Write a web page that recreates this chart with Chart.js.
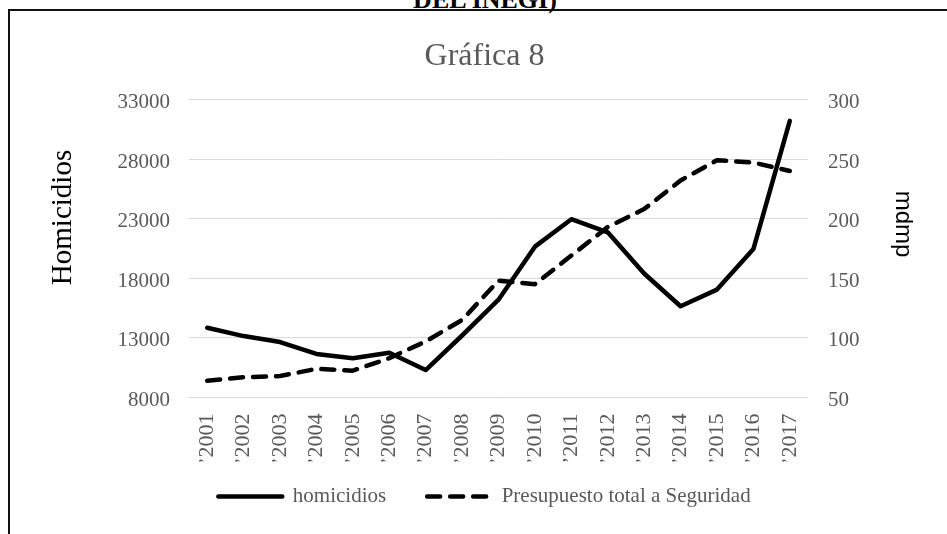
<!DOCTYPE html>
<html>
<head>
<meta charset="utf-8">
<script src="https://cdn.jsdelivr.net/npm/chart.js@4/dist/chart.umd.min.js"></script>
<style>
  html, body { margin: 0; padding: 0; background: #fff; }
  body { width: 947px; height: 534px; position: relative; overflow: hidden; }
  #cap { position: absolute; left: 0; top: -13.5px; width: 970px; text-align: center;
         font: bold 26px/26px "Liberation Serif", serif; color: #000; white-space: nowrap; }
  #box { position: absolute; left: 8px; top: 9px; width: 960px; height: 560px;
         border-left: 2px solid #111; border-top: 2px solid #111; }
  #c { position: absolute; left: 0; top: 0; }
</style>
</head>
<body>
<div id="cap">DEL INEGI)</div>
<div id="box"></div>
<canvas id="c" width="947" height="534"></canvas>
<script>
const chartTitle = 'Gráfica 8';
const leftAxisTitle = 'Homicidios';
const rightAxisTitle = 'mdmp';
const years = ['2001','2002','2003','2004','2005','2006','2007','2008','2009','2010','2011','2012','2013','2014','2015','2016','2017'];
const yearLabels = years.map(y => '\u2019' + y);
const homicidios = [13850, 13150, 12650, 11650, 11300, 11750, 10300, 13200, 16200, 20650, 22950, 21850, 18400, 15650, 17050, 20450, 31200];
const presupuesto = [64, 67, 68, 74, 72.5, 83, 97, 115, 148, 145, 169, 193, 208, 232, 249, 247, 240];
const leftTicks = { min: 8000, max: 33000, step: 5000 };
const rightTicks = { min: 50, max: 300, step: 50 };

Chart.defaults.font.family = "'Liberation Serif', serif";

const axisTitlePlugin = {
  id: 'axisTitles',
  afterDraw(chart) {
    const ctx = chart.ctx;
    ctx.save();
    ctx.fillStyle = '#000';
    ctx.textAlign = 'center';
    ctx.textBaseline = 'alphabetic';
    ctx.font = "29px 'Liberation Serif', serif";
    ctx.translate(71, 217.5);
    ctx.rotate(-Math.PI / 2);
    ctx.fillText(leftAxisTitle, 0, 0);
    ctx.restore();
    ctx.save();
    ctx.fillStyle = '#000';
    ctx.textAlign = 'center';
    ctx.textBaseline = 'alphabetic';
    ctx.font = "24px 'Liberation Sans', Arial, sans-serif";
    ctx.translate(896, 224);
    ctx.rotate(Math.PI / 2);
    ctx.fillText(rightAxisTitle, 0, 0);
    ctx.restore();
  }
};

const plain = v => String(v);

new Chart(document.getElementById('c'), {
  type: 'line',
  data: {
    labels: yearLabels,
    datasets: [
      {
        label: 'homicidios',
        data: homicidios,
        yAxisID: 'y',
        borderColor: '#000',
        backgroundColor: '#000',
        borderWidth: 4.5,
        borderCapStyle: 'round',
        borderJoinStyle: 'round',
        pointRadius: 0,
        tension: 0
      },
      {
        label: 'Presupuesto total a Seguridad',
        data: presupuesto,
        yAxisID: 'y1',
        borderColor: '#000',
        backgroundColor: '#000',
        borderWidth: 4.5,
        borderDash: [13, 10],
        borderCapStyle: 'round',
        borderJoinStyle: 'round',
        pointRadius: 0,
        tension: 0
      }
    ]
  },
  options: {
    responsive: false,
    animation: false,
    devicePixelRatio: 1,
    layout: { padding: { left: 22, right: 0, top: 0, bottom: 17 } },
    plugins: {
      title: {
        display: true,
        text: chartTitle,
        color: '#595959',
        font: { size: 32, weight: 'normal' },
        padding: { top: 37, bottom: 24 }
      },
      legend: {
        position: 'bottom',
        title: { display: true, text: '', font: { size: 12 }, padding: { top: -30.9, bottom: 0 } },
        labels: {
          usePointStyle: false,
          boxWidth: 64,
          boxHeight: 0,
          color: '#595959',
          font: { size: 21 },
          padding: 41
        }
      },
      tooltip: { enabled: false }
    },
    scales: {
      x: {
        offset: true,
        grid: { display: false },
        border: { display: false },
        ticks: {
          color: '#595959',
          font: { size: 22 },
          minRotation: 90,
          maxRotation: 90,
          autoSkip: false,
          padding: 8
        },
        afterFit(s) { s.height = 64; }
      },
      y: {
        position: 'left',
        min: leftTicks.min,
        max: leftTicks.max,
        grid: { color: '#d9d9d9', lineWidth: 1, drawTicks: false },
        border: { display: false },
        ticks: {
          stepSize: leftTicks.step,
          color: '#595959',
          font: { size: 21 },
          padding: 19,
          labelOffset: 3,
          callback: plain
        },
        afterFit(s) { s.width = 167; }
      },
      y1: {
        position: 'right',
        min: rightTicks.min,
        max: rightTicks.max,
        grid: { drawOnChartArea: false, drawTicks: false },
        border: { display: false },
        ticks: {
          stepSize: rightTicks.step,
          color: '#595959',
          font: { size: 21 },
          padding: 20,
          labelOffset: 3,
          callback: plain
        },
        afterFit(s) { s.width = 139; }
      }
    }
  },
  plugins: [axisTitlePlugin]
});
</script>
</body>
</html>
